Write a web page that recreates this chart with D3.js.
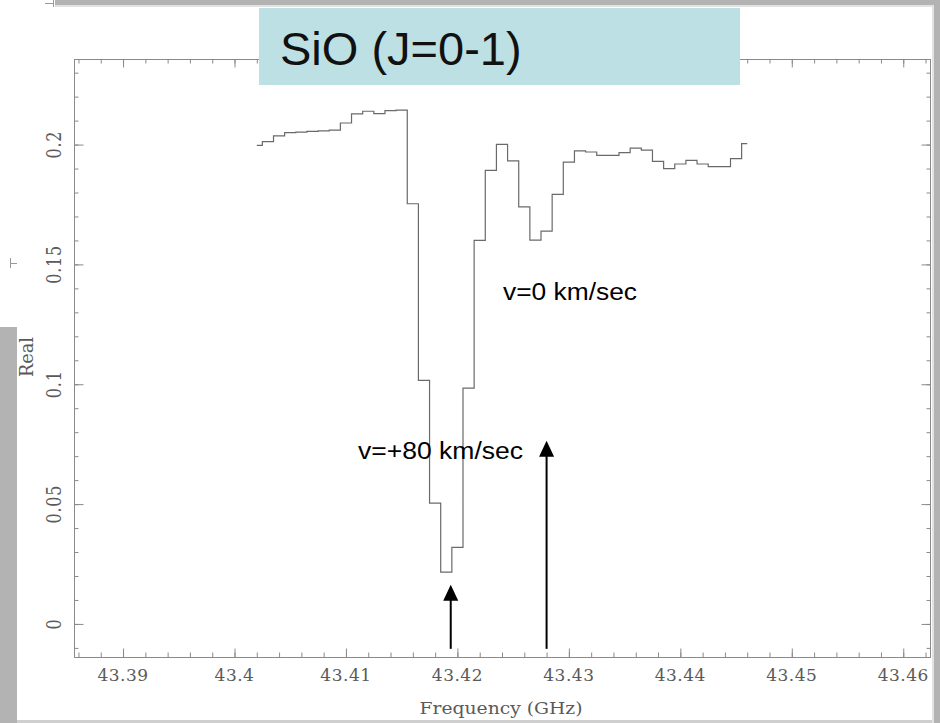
<!DOCTYPE html>
<html>
<head>
<meta charset="utf-8">
<script src="https://cdn.jsdelivr.net/npm/d3@7"></script>
<style>
  body { margin: 0; background: #fff; }
  svg { display: block; }
</style>
</head>
<body>
<svg id="chart" width="940" height="723"></svg>
<script>
// SiO (J=0-1) absorption spectrum: channel centre frequency (GHz) and real part
const frequencies = [
  43.402, 43.403, 43.404, 43.405, 43.406, 43.407, 43.408, 43.409, 43.410, 43.411,
  43.412, 43.413, 43.414, 43.415, 43.416, 43.417, 43.418, 43.419, 43.420, 43.421,
  43.422, 43.423, 43.424, 43.425, 43.426, 43.427, 43.428, 43.429, 43.430, 43.431,
  43.432, 43.433, 43.434, 43.435, 43.436, 43.437, 43.438, 43.439, 43.440, 43.441,
  43.442, 43.443, 43.444, 43.445, 43.446
];
const realValues = [
  0.1997, 0.2012, 0.2036, 0.2050, 0.2052, 0.2055, 0.2057, 0.2060, 0.2090, 0.2128,
  0.2139, 0.2129, 0.2142, 0.2144, 0.1753, 0.1016, 0.0504, 0.0216, 0.0319, 0.0984,
  0.1600, 0.1892, 0.2001, 0.1932, 0.1740, 0.1601, 0.1639, 0.1792, 0.1927, 0.1974,
  0.1969, 0.1955, 0.1955, 0.1966, 0.1985, 0.1977, 0.1930, 0.1900, 0.1919, 0.1934,
  0.1919, 0.1908, 0.1908, 0.1941, 0.2004
];

// axis extents and tick labels
const freqDomain = [43.3856, 43.4624];
const realDomain = [-0.0138, 0.2357];
const xTickLabels = [43.39, 43.40, 43.41, 43.42, 43.43, 43.44, 43.45, 43.46];
const yTickLabels = [0, 0.05, 0.1, 0.15, 0.2];

// velocity markers: arrow frequency, arrow tip and foot (in Real units)
const markerLabels = ["v=+80 km/sec", "v=0 km/sec"];
const markerFreqs = [43.4194, 43.4280];
const markerTips = [0.0163, 0.0764];
const markerFoot = -0.0104;

const titleText = "SiO (J=0-1)";

const svg = d3.select("#chart");
const plot = { left: 74, right: 930, top: 59, bottom: 657 };

const x = d3.scaleLinear().domain(freqDomain).range([plot.left, plot.right]);
const y = d3.scaleLinear().domain(realDomain).range([plot.bottom, plot.top]);

// slide border decoration
const border = svg.append("g");
border.append("rect").attr("x", 55).attr("y", 0).attr("width", 885).attr("height", 5).attr("fill", "#b3b3b3");
border.append("rect").attr("x", 55).attr("y", 5).attr("width", 879).attr("height", 2).attr("fill", "#e2e2e2");
border.append("rect").attr("x", 934).attr("y", 0).attr("width", 6).attr("height", 723).attr("fill", "#b3b3b3");
border.append("rect").attr("x", 932).attr("y", 7).attr("width", 2).attr("height", 716).attr("fill", "#e2e2e2");
border.append("rect").attr("x", 0).attr("y", 327).attr("width", 17).attr("height", 396).attr("fill", "#b3b3b3");
border.append("rect").attr("x", 17).attr("y", 720).attr("width", 915).attr("height", 3).attr("fill", "#cfcfcf");
border.append("path").attr("d", "M45,3.5H53.5M53.5,0V7").attr("stroke", "#999").attr("fill", "none");
border.append("path").attr("d", "M10.5,258V268M10.5,263.5H17").attr("stroke", "#999").attr("fill", "none");

// plot frame
const axisColor = "#8a8a8a";
svg.append("rect")
  .attr("x", plot.left + 0.5).attr("y", plot.top + 0.5)
  .attr("width", plot.right - plot.left).attr("height", plot.bottom - plot.top)
  .attr("fill", "none").attr("stroke", axisColor).attr("stroke-width", 1);

// inward ticks on all four sides
function tickAxis(gen, tx, ty, values, size) {
  const g = svg.append("g").attr("transform", `translate(${tx},${ty})`)
    .call(gen.tickValues(values).tickSize(size).tickFormat(""));
  g.select(".domain").remove();
  g.selectAll("line").attr("stroke", axisColor);
  return g;
}
const xMinor = x.ticks(40), xMajor = x.ticks(8);
const yMinor = y.ticks(25), yMajor = y.ticks(5);
tickAxis(d3.axisBottom(x), 0, plot.bottom + 0.5, xMinor, -5);
tickAxis(d3.axisBottom(x), 0, plot.bottom + 0.5, xMajor, -9);
tickAxis(d3.axisTop(x), 0, plot.top + 0.5, xMinor, -4);
tickAxis(d3.axisTop(x), 0, plot.top + 0.5, xMajor, -8);
tickAxis(d3.axisLeft(y), plot.left + 0.5, 0, yMinor, -4);
tickAxis(d3.axisLeft(y), plot.left + 0.5, 0, yMajor, -9);
tickAxis(d3.axisRight(y), plot.right + 0.5, 0, yMinor, -4);
tickAxis(d3.axisRight(y), plot.right + 0.5, 0, yMajor, -9);

// tick labels
const labelFont = "'DejaVu Serif', serif";
const labelColor = "#5a5a5a";
svg.append("g").selectAll("text").data(xTickLabels).join("text")
  .attr("x", d => x(d)).attr("y", 681)
  .attr("text-anchor", "middle")
  .attr("font-family", labelFont).attr("font-size", 17)
  .attr("letter-spacing", 0.5)
  .attr("fill", labelColor)
  .text(d => d3.format("~g")(d));

svg.append("g").selectAll("text").data(yTickLabels).join("text")
  .attr("transform", d => `translate(61,${y(d)}) rotate(-90) scale(1,1.25)`)
  .attr("text-anchor", "middle")
  .attr("font-family", labelFont).attr("font-size", 16)
  .attr("letter-spacing", 0.8)
  .attr("fill", labelColor)
  .text(d => d3.format("~g")(d));

// axis titles
svg.append("text")
  .attr("x", 501).attr("y", 714)
  .attr("text-anchor", "middle")
  .attr("font-family", labelFont).attr("font-size", 17)
  .attr("textLength", 163).attr("lengthAdjust", "spacingAndGlyphs")
  .attr("fill", labelColor)
  .text("Frequency (GHz)");
svg.append("text")
  .attr("transform", "translate(33,357) rotate(-90) scale(1,1.2)")
  .attr("text-anchor", "middle")
  .attr("font-family", labelFont).attr("font-size", 16)
  .attr("textLength", 40).attr("lengthAdjust", "spacingAndGlyphs")
  .attr("fill", labelColor)
  .text("Real");

// spectrum as a histogram-style step line
const spectrum = frequencies.map((f, i) => [f, realValues[i]]);
svg.append("path")
  .datum(spectrum)
  .attr("fill", "none")
  .attr("stroke", "#6a6a6a")
  .attr("stroke-width", 1.2)
  .attr("d", d3.line().x(d => x(d[0])).y(d => y(d[1])).curve(d3.curveStep));

// title box
svg.append("rect").attr("x", 259).attr("y", 8).attr("width", 481).attr("height", 77).attr("fill", "#bce0e3");
svg.append("text")
  .attr("x", 280).attr("y", 65)
  .attr("font-family", "'Liberation Sans', Arial, sans-serif")
  .attr("font-size", 47)
  .attr("fill", "#111")
  .text(titleText);

// velocity arrows
const arrows = svg.append("g");
markerFreqs.forEach((f, i) => {
  const ax = x(f), tip = y(markerTips[i]), foot = y(markerFoot);
  arrows.append("line")
    .attr("x1", ax).attr("x2", ax).attr("y1", foot).attr("y2", tip + 10)
    .attr("stroke", "#000").attr("stroke-width", 2);
  arrows.append("path")
    .attr("d", `M${ax},${tip}L${ax - 7.5},${tip + 16}L${ax + 7.5},${tip + 16}Z`)
    .attr("fill", "#000");
});

// velocity labels
const labelSans = "'Liberation Sans', Arial, sans-serif";
svg.append("text")
  .attr("x", 358).attr("y", 459)
  .attr("font-family", labelSans).attr("font-size", 23.5)
  .attr("textLength", 165).attr("lengthAdjust", "spacingAndGlyphs")
  .attr("fill", "#000")
  .text(markerLabels[0]);
svg.append("text")
  .attr("x", 503).attr("y", 300)
  .attr("font-family", labelSans).attr("font-size", 23.5)
  .attr("textLength", 134).attr("lengthAdjust", "spacingAndGlyphs")
  .attr("fill", "#000")
  .text(markerLabels[1]);
</script>
</body>
</html>
